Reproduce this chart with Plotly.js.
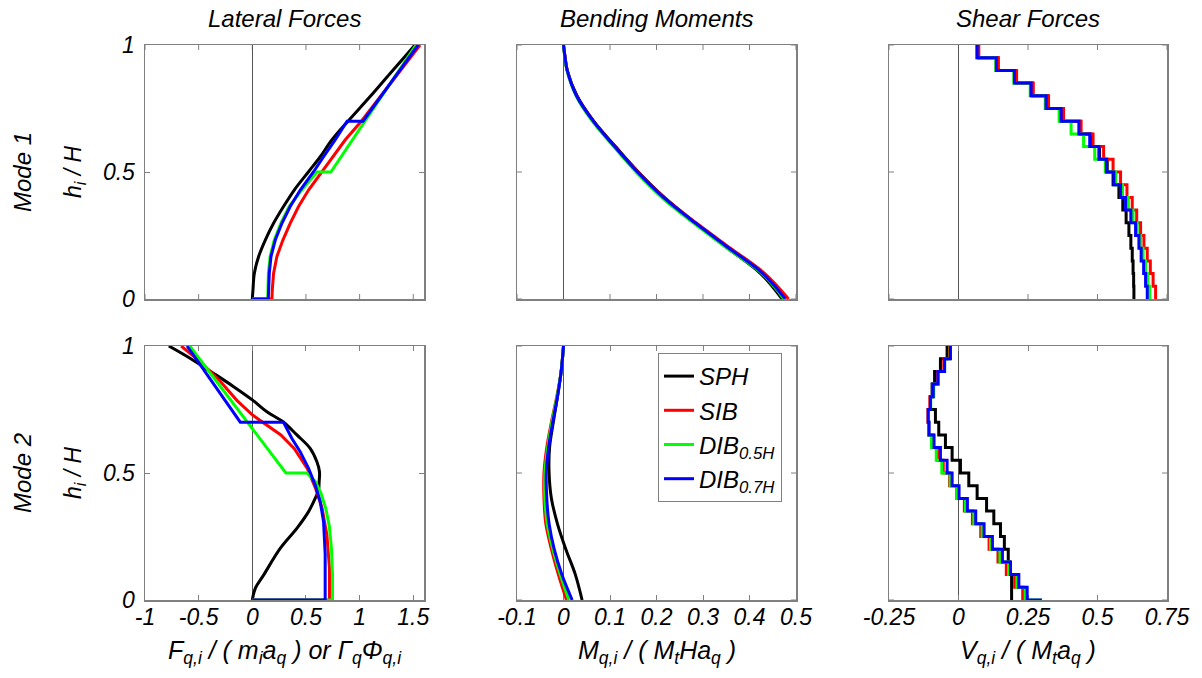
<!DOCTYPE html>
<html>
<head>
<meta charset="utf-8">
<script src="https://cdn.plot.ly/plotly-3.0.1.min.js"></script>
<style>html,body{margin:0;padding:0;background:#fff;}#chart{width:1202px;height:678px;}</style>
</head>
<body>
<div id="chart"></div>
<script>
// ---------------- DATA ----------------
const seriesNames = ['SPH', 'SIB', 'DIB<sub>0.5H</sub>', 'DIB<sub>0.7H</sub>'];
const columnTitles = ['Lateral Forces', 'Bending Moments', 'Shear Forces'];
const rowTitles = ['Mode 1', 'Mode 2'];

// Mode 1 - lateral forces (x = F/(m a), h = h_i/H)
const m1F_SPH_x = [0, 0.006, 0.019, 0.059, 0.121, 0.198, 0.291, 0.391, 0.524, 0.633, 0.741, 0.896, 1.098, 1.284, 1.516];
const m1F_SPH_h = [0, 0.035, 0.101, 0.167, 0.232, 0.298, 0.364, 0.429, 0.501, 0.560, 0.626, 0.702, 0.797, 0.888, 1.0];
const m1F_SIB_x = [0, 0.183, 0.186, 0.198, 0.229, 0.285, 0.353, 0.431, 0.524, 0.648, 0.756, 0.865, 1.020, 1.290, 1.563];
const m1F_SIB_h = [0, 0, 0.035, 0.101, 0.167, 0.232, 0.298, 0.364, 0.429, 0.501, 0.560, 0.626, 0.702, 0.850, 1.0];
const m1F_D05_x = [0, 0.145, 0.146, 0.150, 0.166, 0.205, 0.266, 0.343, 0.460, 0.602, 0.732, 1.526];
const m1F_D05_h = [0, 0, 0.035, 0.101, 0.167, 0.232, 0.298, 0.364, 0.429, 0.5, 0.5, 1.0];
const m1F_D07_x = [0, 0.149, 0.152, 0.158, 0.174, 0.214, 0.276, 0.353, 0.447, 0.571, 0.664, 0.772, 0.883, 1.032, 1.544];
const m1F_D07_h = [0, 0, 0.035, 0.101, 0.167, 0.232, 0.298, 0.364, 0.429, 0.501, 0.560, 0.626, 0.7, 0.7, 1.0];

// Mode 1 - bending moments
const m1M_h   = [0, 0.1, 0.2, 0.3, 0.4, 0.5, 0.6, 0.7, 0.8, 0.9, 0.95, 1.0];
const m1M_SPH = [0.470, 0.424, 0.353, 0.283, 0.217, 0.161, 0.112, 0.065, 0.029, 0.008, 0.0035, 0];
const m1M_SIB = [0.484, 0.433, 0.359, 0.285, 0.216, 0.160, 0.110, 0.064, 0.028, 0.008, 0.0035, 0];
const m1M_D05 = [0.474, 0.427, 0.352, 0.279, 0.211, 0.156, 0.108, 0.062, 0.027, 0.0075, 0.003, 0];
const m1M_D07 = [0.477, 0.429, 0.356, 0.283, 0.215, 0.159, 0.110, 0.064, 0.028, 0.008, 0.0035, 0];

// Storey levels for shear (base, then top of each of 20 storeys)
const storyLevels = [0, 0.05, 0.1, 0.15, 0.2, 0.25, 0.3, 0.35, 0.4, 0.45, 0.5, 0.55, 0.6, 0.65, 0.7, 0.75, 0.8, 0.85, 0.9, 0.95, 1.0];
// Mode 1 - storey shears [base, storey 1 ... storey 20]
const m1V_SPH = [0.631, 0.631, 0.630, 0.628, 0.625, 0.620, 0.613, 0.603, 0.591, 0.577, 0.556, 0.535, 0.507, 0.476, 0.438, 0.374, 0.320, 0.265, 0.207, 0.142, 0.072];
const m1V_SIB = [0.709, 0.709, 0.700, 0.690, 0.679, 0.667, 0.655, 0.641, 0.625, 0.606, 0.583, 0.556, 0.522, 0.484, 0.441, 0.378, 0.324, 0.269, 0.209, 0.143, 0.073];
const m1V_D05 = [0.688, 0.688, 0.681, 0.673, 0.664, 0.655, 0.643, 0.628, 0.611, 0.590, 0.565, 0.528, 0.490, 0.450, 0.405, 0.362, 0.312, 0.258, 0.199, 0.134, 0.065];
const m1V_D07 = [0.679, 0.679, 0.673, 0.666, 0.657, 0.649, 0.637, 0.620, 0.601, 0.583, 0.559, 0.532, 0.505, 0.472, 0.433, 0.369, 0.315, 0.261, 0.201, 0.136, 0.067];

// Mode 2 - lateral forces
const m2F_SPH_x = [0, 0.028, 0.105, 0.260, 0.415, 0.524, 0.586, 0.617, 0.623, 0.626, 0.601, 0.539, 0.415, 0.291, 0.136, 0.003, -0.174, -0.360, -0.577, -0.778];
const m2F_SPH_h = [0, 0.046, 0.098, 0.203, 0.282, 0.348, 0.400, 0.433, 0.466, 0.505, 0.545, 0.597, 0.650, 0.700, 0.741, 0.787, 0.840, 0.892, 0.951, 1.0];
const m2F_SIB_x = [0, 0.719, 0.719, 0.695, 0.650, 0.589, 0.512, 0.390, 0.266, 0.136, 0.003, -0.142, -0.297, -0.483, -0.663];
const m2F_SIB_h = [0, 0, 0.125, 0.256, 0.362, 0.440, 0.518, 0.597, 0.650, 0.688, 0.728, 0.785, 0.860, 0.938, 1.0];
const m2F_D05_x = [0, 0.747, 0.747, 0.738, 0.718, 0.685, 0.640, 0.590, 0.509, 0.313, -0.583];
const m2F_D05_h = [0, 0, 0.1, 0.2, 0.29, 0.36, 0.42, 0.465, 0.5, 0.5, 1.0];
const m2F_D07_x = [0, 0.679, 0.679, 0.664, 0.633, 0.586, 0.524, 0.446, 0.369, 0.291, -0.112, -0.608];
const m2F_D07_h = [0, 0, 0.181, 0.308, 0.387, 0.453, 0.518, 0.584, 0.636, 0.7, 0.7, 1.0];

// Mode 2 - bending moments
const m2M_h   = [0, 0.1, 0.2, 0.3, 0.4, 0.5, 0.6, 0.7, 0.8, 0.9, 1.0];
const m2M_SPH = [0.040, 0.0255, 0.005, -0.013, -0.026, -0.031, -0.030, -0.022, -0.013, -0.005, 0];
const m2M_SIB = [0.0064, -0.011, -0.026, -0.038, -0.042, -0.042, -0.036, -0.026, -0.0145, -0.005, 0];
const m2M_D05 = [0.0115, -0.007, -0.023, -0.035, -0.040, -0.040, -0.034, -0.025, -0.014, -0.005, 0];
const m2M_D07 = [0.0186, -0.0035, -0.020, -0.031, -0.036, -0.037, -0.032, -0.023, -0.013, -0.005, 0];

// Mode 2 - storey shears [base, storey 1 ... storey 20]
const m2V_SPH = [0.191, 0.191, 0.191, 0.185, 0.179, 0.165, 0.151, 0.127, 0.101, 0.067, 0.037, 0.007, -0.023, -0.047, -0.071, -0.083, -0.101, -0.095, -0.086, -0.065, -0.041];
const m2V_SIB = [0.231, 0.231, 0.202, 0.172, 0.142, 0.110, 0.080, 0.050, 0.021, -0.006, -0.032, -0.055, -0.075, -0.093, -0.107, -0.110, -0.103, -0.092, -0.075, -0.053, -0.032];
const m2V_D05 = [0.300, 0.240, 0.210, 0.180, 0.149, 0.115, 0.085, 0.055, 0.025, -0.004, -0.030, -0.060, -0.080, -0.097, -0.107, -0.108, -0.100, -0.089, -0.072, -0.050, -0.030];
const m2V_D07 = [0.300, 0.247, 0.217, 0.187, 0.158, 0.122, 0.092, 0.062, 0.032, 0.002, -0.023, -0.041, -0.065, -0.088, -0.106, -0.109, -0.101, -0.091, -0.074, -0.050, -0.029];

// Axis ranges and tick labels
const rangeF = [-1, 1.6],  ticksF = [-1, -0.5, 0, 0.5, 1, 1.5],  tickTextF = ['-1', '-0.5', '0', '0.5', '1', '1.5'];
const rangeM = [-0.1, 0.5], ticksM = [-0.1, 0, 0.1, 0.2, 0.3, 0.4, 0.5], tickTextM = ['-0.1', '0', '0.1', '0.2', '0.3', '0.4', '0.5'];
const rangeV = [-0.25, 0.75], ticksV = [-0.25, 0, 0.25, 0.5, 0.75], tickTextV = ['-0.25', '0', '0.25', '0.5', '0.75'];
const ticksH = [0, 0.5, 1], tickTextH = ['0', '0.5', '1'];

// ---------------- STYLE / LAYOUT ----------------
const W = 1202, H = 678;
const colors = ['#000000', '#ff0000', '#00ff00', '#0000ff'];
const FONT = 'Liberation Sans, Arial, Helvetica, sans-serif';
const FRAME = '#808080';
const TICKLEN = 5;
const px = v => v / W, py = v => 1 - v / H;

const colPx = [[145, 424], [517, 796], [889, 1167]];
const rowPx = [[45, 299], [346, 600]];
const colDom = colPx.map(c => [px(c[0]), px(c[1])]);
const rowDom = rowPx.map(r => [py(r[1]), py(r[0])]);

const traces = [];
function addLine(x, y, si, axIdx, shape) {
  const sfx = axIdx === 1 ? '' : String(axIdx);
  traces.push({
    type: 'scatter', mode: 'lines', x: x, y: y,
    name: seriesNames[si], legendgroup: 'g' + si,
    showlegend: axIdx === 5,
    line: {color: colors[si], width: 3, shape: shape || 'linear'},
    xaxis: 'x' + sfx, yaxis: 'y' + sfx,
    hoverinfo: 'skip'
  });
}

// Row 1
addLine(m1F_SPH_x, m1F_SPH_h, 0, 1, 'spline');
addLine(m1F_SIB_x, m1F_SIB_h, 1, 1);
addLine(m1F_D05_x, m1F_D05_h, 2, 1);
addLine(m1F_D07_x, m1F_D07_h, 3, 1);
[m1M_SPH, m1M_SIB, m1M_D05, m1M_D07].forEach((a, i) => addLine(a, m1M_h, i, 2, 'spline'));
[m1V_SPH, m1V_SIB, m1V_D05, m1V_D07].forEach((a, i) => addLine(a, storyLevels, i, 3, 'hv'));
// Row 2
addLine(m2F_SPH_x, m2F_SPH_h, 0, 4, 'spline');
addLine(m2F_SIB_x, m2F_SIB_h, 1, 4);
addLine(m2F_D05_x, m2F_D05_h, 2, 4);
addLine(m2F_D07_x, m2F_D07_h, 3, 4);
[m2M_SPH, m2M_SIB, m2M_D05, m2M_D07].forEach((a, i) => addLine(a, m2M_h, i, 5, 'spline'));
[m2V_SPH, m2V_SIB, m2V_D05, m2V_D07].forEach((a, i) => addLine(a, storyLevels, i, 6, 'hv'));

const tickFont = {family: FONT, size: 23, color: '#000', style: 'italic'};
const shapes = [];
const sfxOf = idx => (idx === 1 ? '' : String(idx));

// Axes with labels use Plotly ticks; axes without labels get tick marks as shapes
function xAxis(col, row, range, tv, tt, idx) {
  const labelled = row === 1;
  const ax = {
    domain: colDom[col], range: range, anchor: 'y' + sfxOf(idx),
    showline: true, linecolor: FRAME, linewidth: 1.5,
    showgrid: false, zeroline: true, zerolinecolor: '#555555', zerolinewidth: 1,
    layer: 'below traces', fixedrange: true
  };
  if (labelled) {
    Object.assign(ax, {tickmode: 'array', tickvals: tv, ticktext: tt, showticklabels: true,
      ticks: 'inside', ticklen: TICKLEN, tickwidth: 1, tickcolor: FRAME, mirror: 'allticks',
      tickfont: tickFont, ticklabelstandoff: -4});
  } else {
    Object.assign(ax, {tickmode: 'array', tickvals: [], showticklabels: false, ticks: '', mirror: true});
    const hFrac = TICKLEN / (rowPx[row][1] - rowPx[row][0]);
    tv.forEach(v => {
      shapes.push({type: 'line', xref: 'x' + sfxOf(idx), yref: 'y' + sfxOf(idx) + ' domain', x0: v, x1: v, y0: 0, y1: hFrac, line: {color: FRAME, width: 1}, layer: 'below'});
      shapes.push({type: 'line', xref: 'x' + sfxOf(idx), yref: 'y' + sfxOf(idx) + ' domain', x0: v, x1: v, y0: 1 - hFrac, y1: 1, line: {color: FRAME, width: 1}, layer: 'below'});
    });
  }
  return ax;
}
function yAxis(col, row, idx) {
  const labelled = col === 0;
  const ax = {
    domain: rowDom[row], range: [0, 1], anchor: 'x' + sfxOf(idx),
    showline: true, linecolor: FRAME, linewidth: 1.5,
    showgrid: false, zeroline: false, layer: 'below traces', fixedrange: true
  };
  if (labelled) {
    Object.assign(ax, {tickmode: 'array', tickvals: ticksH, ticktext: tickTextH, showticklabels: true,
      ticks: 'inside', ticklen: TICKLEN, tickwidth: 1, tickcolor: FRAME, mirror: 'allticks', tickfont: tickFont,
      ticklabelstandoff: 4});
  } else {
    Object.assign(ax, {tickmode: 'array', tickvals: [], showticklabels: false, ticks: '', mirror: true});
    const wFrac = TICKLEN / (colPx[col][1] - colPx[col][0]);
    ticksH.forEach(v => {
      shapes.push({type: 'line', xref: 'x' + sfxOf(idx) + ' domain', yref: 'y' + sfxOf(idx), x0: 0, x1: wFrac, y0: v, y1: v, line: {color: FRAME, width: 1}, layer: 'below'});
      shapes.push({type: 'line', xref: 'x' + sfxOf(idx) + ' domain', yref: 'y' + sfxOf(idx), x0: 1 - wFrac, x1: 1, y0: v, y1: v, line: {color: FRAME, width: 1}, layer: 'below'});
    });
  }
  return ax;
}

const layout = {
  width: W, height: H, margin: {l: 0, r: 0, t: 0, b: 0},
  paper_bgcolor: '#fff', plot_bgcolor: '#fff',
  font: {family: FONT, size: 21, color: '#000', style: 'italic'},
  showlegend: true,
  legend: {
    x: px(658), y: py(353), xanchor: 'left', yanchor: 'top',
    bgcolor: '#fff', bordercolor: FRAME, borderwidth: 1,
    font: {family: FONT, size: 24, color: '#000', style: 'italic'},
    itemwidth: 30, tracegroupgap: 0
  },
  xaxis:  xAxis(0, 0, rangeF, ticksF, tickTextF, 1),
  xaxis2: xAxis(1, 0, rangeM, ticksM, tickTextM, 2),
  xaxis3: xAxis(2, 0, rangeV, ticksV, tickTextV, 3),
  xaxis4: xAxis(0, 1, rangeF, ticksF, tickTextF, 4),
  xaxis5: xAxis(1, 1, rangeM, ticksM, tickTextM, 5),
  xaxis6: xAxis(2, 1, rangeV, ticksV, tickTextV, 6),
  yaxis:  yAxis(0, 0, 1), yaxis2: yAxis(1, 0, 2), yaxis3: yAxis(2, 0, 3),
  yaxis4: yAxis(0, 1, 4), yaxis5: yAxis(1, 1, 5), yaxis6: yAxis(2, 1, 6),
  shapes: shapes,
  annotations: []
};

const ann = (text, x, y, opts) => Object.assign({
  text: text, xref: 'paper', yref: 'paper', x: px(x), y: py(y),
  xanchor: 'center', yanchor: 'middle', showarrow: false,
  font: {family: FONT, size: 24, color: '#000', style: 'italic'}
}, opts || {});

const colCenters = [284.5, 656.5, 1028];
columnTitles.forEach((t, i) => layout.annotations.push(ann(t, colCenters[i], 18)));
const xTitles = [
  'F<sub>q,i</sub> / ( m<sub>i</sub>a<sub>q</sub> ) or Γ<sub>q</sub>Φ<sub>q,i</sub>',
  'M<sub>q,i</sub> / ( M<sub>t</sub>Ha<sub>q</sub> )',
  'V<sub>q,i</sub> / ( M<sub>t</sub>a<sub>q</sub> )'
];
xTitles.forEach((t, i) => layout.annotations.push(ann(t, colCenters[i], 634, {yanchor: 'top', font: {family: FONT, size: 25, color: '#000', style: 'italic'}})));
const rowCenters = [172, 473];
rowTitles.forEach((t, i) => {
  layout.annotations.push(ann(t, 22, rowCenters[i], {textangle: -90}));
  layout.annotations.push(ann('h<sub>i</sub> / H', 74, rowCenters[i], {textangle: -90, font: {family: FONT, size: 23, color: '#000', style: 'italic'}}));
});

Plotly.newPlot('chart', traces, layout, {staticPlot: true, displayModeBar: false});
</script>
</body>
</html>
